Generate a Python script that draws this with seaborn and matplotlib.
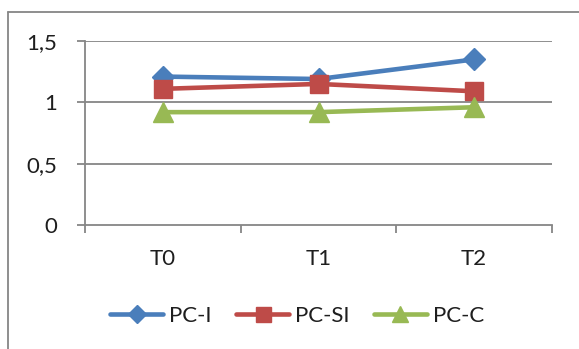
import matplotlib
matplotlib.use("Agg")
import matplotlib.pyplot as plt
from matplotlib.lines import Line2D
import seaborn as sns
import pandas as pd

# Measurement times and the three series
times = ["T0", "T1", "T2"]
pc_i = [1.21, 1.19, 1.35]
pc_si = [1.11, 1.15, 1.09]
pc_c = [0.92, 0.92, 0.96]
series_names = ["PC-I", "PC-SI", "PC-C"]
y_ticks = [0, 0.5, 1, 1.5]
y_tick_labels = ["0", "0,5", "1", "1,5"]

colors = {"PC-I": "#4A7EBB", "PC-SI": "#BE4B48", "PC-C": "#98B954"}
markers = {"PC-I": "D", "PC-SI": "s", "PC-C": "^"}
msizes = {"PC-I": 11, "PC-SI": 13.5, "PC-C": 14}

df = pd.DataFrame({
    "time": times * 3,
    "value": pc_i + pc_si + pc_c,
    "series": [s for s in series_names for _ in times],
})
df["pos"] = df["time"].map({t: i for i, t in enumerate(times)})

sns.set_theme(style="white")
plt.rcParams["font.family"] = ["Lato", "DejaVu Sans"]

text_color = "#1e1e1e"
grid_color = "#868686"
font_size = 16

fig = plt.figure(figsize=(5.79, 3.49), dpi=100)
ax = fig.add_axes([85 / 579, 1 - 225 / 349, (552 - 85) / 579, (225 - 41) / 349])

for name in series_names:
    sub = df[df["series"] == name]
    sns.lineplot(data=sub, x="pos", y="value", ax=ax, color=colors[name],
                 marker=markers[name], markersize=msizes[name],
                 markeredgecolor=colors[name], markeredgewidth=1,
                 linewidth=3.3, legend=False)

ax.set_xlim(-0.5, 2.5)
ax.set_ylim(0, 1.5)
ax.set_yticks(y_ticks)
ax.set_yticklabels(y_tick_labels)
ax.set_xticks(range(len(times)))
ax.set_xticklabels(times)
ax.set_xlabel("")
ax.set_ylabel("")

for y in y_ticks[1:]:
    ax.axhline(y, color=grid_color, linewidth=1.3, zorder=0)

for side in ["top", "right"]:
    ax.spines[side].set_visible(False)
for side in ["left", "bottom"]:
    ax.spines[side].set_color(grid_color)
    ax.spines[side].set_linewidth(1.3)

# Category boundary ticks on the x-axis, labels centred between them
ax.set_xticks([-0.5, 0.5, 1.5, 2.5], minor=True)
ax.tick_params(axis="x", which="major", length=0, pad=17, labelsize=font_size,
               labelcolor=text_color)
ax.tick_params(axis="x", which="minor", length=6, width=1.3, color=grid_color, bottom=True)
ax.tick_params(axis="y", length=6, width=1.3, color=grid_color, labelsize=font_size,
               labelcolor=text_color, pad=14, left=True)

handles = [Line2D([0], [0], color=colors[n], marker=markers[n], markersize=msizes[n] * 0.8,
                  markeredgecolor=colors[n], linewidth=3.3) for n in series_names]
fig.legend(handles, series_names, loc="center", bbox_to_anchor=(297 / 579, 1 - 316 / 349),
           ncol=3, frameon=False, fontsize=font_size, handlelength=2.4, handletextpad=0.25,
           columnspacing=1.1, labelcolor=text_color)

# Outer chart frame
fig.add_artist(Line2D([8 / 579, 8 / 579], [0, 1 - 12 / 349], transform=fig.transFigure,
                      color=grid_color, linewidth=1.3))
fig.add_artist(Line2D([8 / 579, 1], [1 - 12 / 349, 1 - 12 / 349], transform=fig.transFigure,
                      color=grid_color, linewidth=1.3))

fig.savefig("out.png", dpi=100)
